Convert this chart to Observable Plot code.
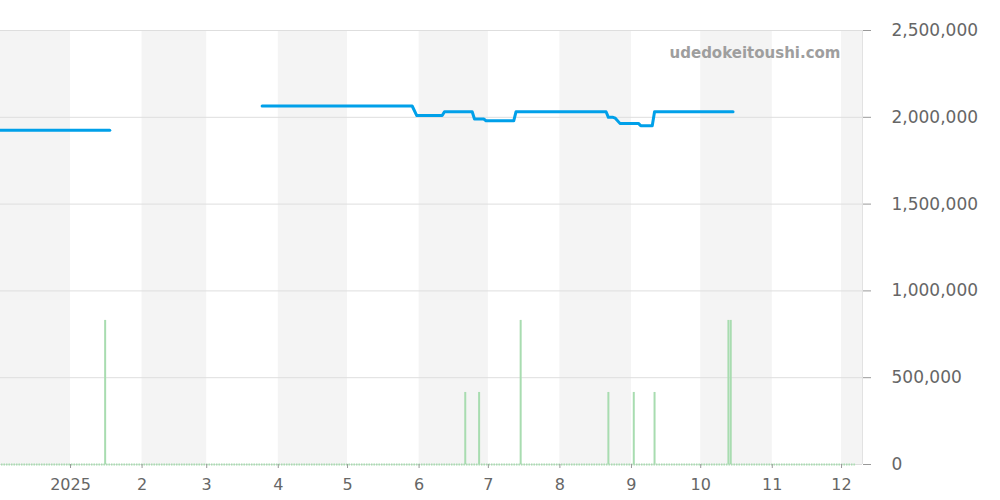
<!DOCTYPE html>
<html>
<head>
<meta charset="utf-8">
<script src="https://cdn.jsdelivr.net/npm/d3@7"></script>
<script src="https://cdn.jsdelivr.net/npm/@observablehq/plot@0.6"></script>
<style>
  html, body { margin: 0; padding: 0; background: #fff; }
  #chart { width: 1000px; height: 500px; }
</style>
</head>
<body>
<div id="chart"></div>
<script>
// ---- data ----
const priceDates = ["2024-12-01","2025-01-18",
  "2025-03-25","2025-05-29","2025-05-31","2025-06-11","2025-06-12","2025-06-24","2025-06-25",
  "2025-06-29","2025-06-30","2025-07-12","2025-07-13","2025-08-21","2025-08-22","2025-08-24",
  "2025-08-25","2025-08-27","2025-09-04","2025-09-05","2025-09-10","2025-09-11","2025-10-15"];
const priceValues = [1925000,1925000,
  2065000,2065000,2010000,2010000,2032000,2032000,1990000,
  1990000,1980000,1980000,2032000,2032000,2000000,2000000,
  1995000,1965000,1965000,1952000,1952000,2032000,2032000];
const priceSegment = ["a","a",
  "b","b","b","b","b","b","b","b","b","b","b","b","b","b","b","b","b","b","b","b","b"];

const volumeDates = ["2025-01-16","2025-06-21","2025-06-27","2025-07-15","2025-08-22",
  "2025-09-02","2025-09-11","2025-10-13","2025-10-14"];
const volumeValues = [830000,415000,415000,830000,415000,415000,415000,830000,830000];

const bandStarts = ["2024-12-01","2025-02-01","2025-04-01","2025-06-01","2025-08-01","2025-10-01","2025-12-01"];
const bandEnds   = ["2025-01-01","2025-03-01","2025-05-01","2025-07-01","2025-09-01","2025-11-01","2026-01-01"];

const monthTicks = ["2025-01-01","2025-02-01","2025-03-01","2025-04-01","2025-05-01","2025-06-01",
  "2025-07-01","2025-08-01","2025-09-01","2025-10-01","2025-11-01","2025-12-01"];
const yTicks = [0, 500000, 1000000, 1500000, 2000000, 2500000];
const volumeBaseline = ["2024-12-01","2025-12-07"];
const watermark = "udedokeitoushi.com";

// ---- build ----
const xDomain = [new Date(Date.UTC(2024, 11, 1, 16)), new Date(Date.UTC(2025, 11, 10, 2))];
const price = priceDates.map((d, i) => ({date: new Date(d), value: priceValues[i], seg: priceSegment[i]}));
const volume = volumeDates.map((d, i) => ({date: new Date(d), value: volumeValues[i]}));
const bands = bandStarts.map((d, i) => ({x1: new Date(d), x2: new Date(bandEnds[i])}));
const ticksX = monthTicks.map(d => new Date(d));
const fmtX = d => d.getUTCMonth() === 0 ? String(d.getUTCFullYear()) : String(d.getUTCMonth() + 1);
const baseline = [{x1: new Date(volumeBaseline[0]), x2: new Date(volumeBaseline[1]), y: 0}];

const chart = Plot.plot({
  width: 1000,
  height: 500,
  marginTop: 30,
  marginBottom: 36,
  marginLeft: 0,
  marginRight: 138,
  style: {fontFamily: "DejaVu Sans", background: "#fff", color: "#666"},
  x: {type: "utc", domain: xDomain},
  y: {domain: [0, 2500000]},
  marks: [
    Plot.rect(bands, {x1: "x1", x2: "x2", fill: "#f4f4f4", clip: true}),
    Plot.gridY(yTicks, {stroke: "#dedede", strokeOpacity: 1}),
    Plot.ruleX([xDomain[1]], {stroke: "#e2e2e2"}),
    Plot.ruleY(baseline, {x1: "x1", x2: "x2", y: "y",
      stroke: "#a8dcb0", strokeWidth: 2, strokeDasharray: "1.5,1"}),
    Plot.ruleX(volume, {x: "date", y1: 0, y2: "value", stroke: "#a8dcb0", strokeWidth: 2}),
    Plot.line(price, {x: "date", y: "value", z: "seg", stroke: "#00a0e9", strokeWidth: 3,
      strokeLinejoin: "round", clip: true}),
    Plot.text([watermark], {frameAnchor: "top-right", dx: -22, dy: 17, text: d => d,
      fontSize: 15, fontWeight: "bold", fill: "#9e9e9e", textAnchor: "end"}),
    Plot.axisY(yTicks, {anchor: "right", tickSize: 8, tickPadding: 21, fontSize: 17,
      tickFormat: d3.format(","), stroke: "#999", fill: "#666", label: null}),
    Plot.axisX(ticksX, {anchor: "bottom", tickSize: 4, tickPadding: 10, fontSize: 16,
      tickFormat: fmtX, stroke: "#999", fill: "#666", label: null})
  ]
});
document.getElementById("chart").appendChild(chart);
</script>
</body>
</html>
